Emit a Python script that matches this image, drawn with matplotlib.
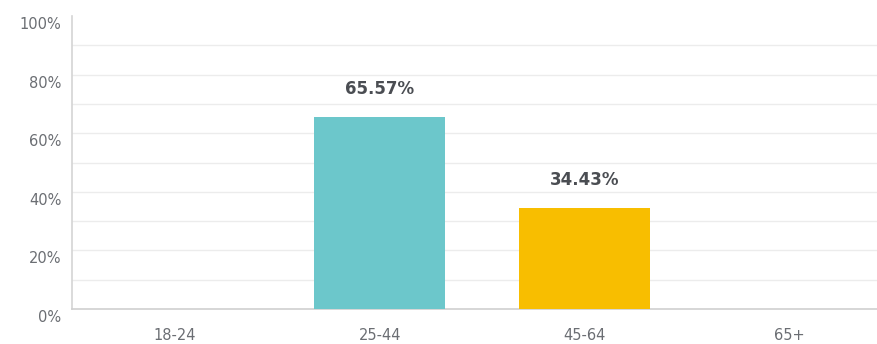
import matplotlib
matplotlib.use("Agg")
import matplotlib.pyplot as plt
from matplotlib.ticker import MultipleLocator, FuncFormatter
from matplotlib.transforms import ScaledTranslation

categories = ["18-24", "25-44", "45-64", "65+"]
shares = [0.0, 65.57, 34.43, 0.0]
colors = ["#6CC7CB", "#6CC7CB", "#F8BE00", "#F8BE00"]
value_labels = ["", "65.57%", "34.43%", ""]
grid_levels = [10, 20, 30, 40, 50, 60, 70, 80, 90]

plt.rcParams["font.family"] = ["DejaVu Sans"]

fig = plt.figure(figsize=(8.78, 3.44), dpi=100)
ax = fig.add_axes([72 / 878, 35 / 344, 1 - 72 / 878, 293 / 344])

x = range(len(categories))
bars = ax.bar(x, shares, width=0.64, color=colors, zorder=3)

for rect, txt in zip(bars, value_labels):
    if txt:
        ax.annotate(txt, (rect.get_x() + rect.get_width() / 2, rect.get_height()),
                    xytext=(0, 28), textcoords="offset pixels",
                    ha="center", va="center", fontsize=12, fontweight="bold",
                    color="#4a4d52")

for level in grid_levels:
    ax.axhline(level, color="#ececec", linewidth=1.0, zorder=0)

ax.set_xlim(-0.5, 3.43)
ax.set_ylim(0, 100)
ax.set_xticks(list(x))
ax.set_xticklabels(categories)
ax.yaxis.set_major_locator(MultipleLocator(20))
ax.yaxis.set_major_formatter(FuncFormatter(lambda v, p: f"{v:.0f}%"))

ax.tick_params(axis="y", length=0, pad=7.5, labelsize=10.5, labelcolor="#6b6e73")
ax.tick_params(axis="x", length=0, pad=14, labelsize=10.5, labelcolor="#6b6e73")

for lab in ax.get_yticklabels():
    lab.set_transform(lab.get_transform() + ScaledTranslation(0, -7 / 100, fig.dpi_scale_trans))

for side in ("top", "right"):
    ax.spines[side].set_visible(False)
ax.spines["left"].set_color("#d4d4d4")
ax.spines["bottom"].set_color("#cfcfcf")
ax.spines["left"].set_linewidth(1.2)
ax.spines["bottom"].set_linewidth(1.2)

fig.savefig("out.png", dpi=100, facecolor="white")
